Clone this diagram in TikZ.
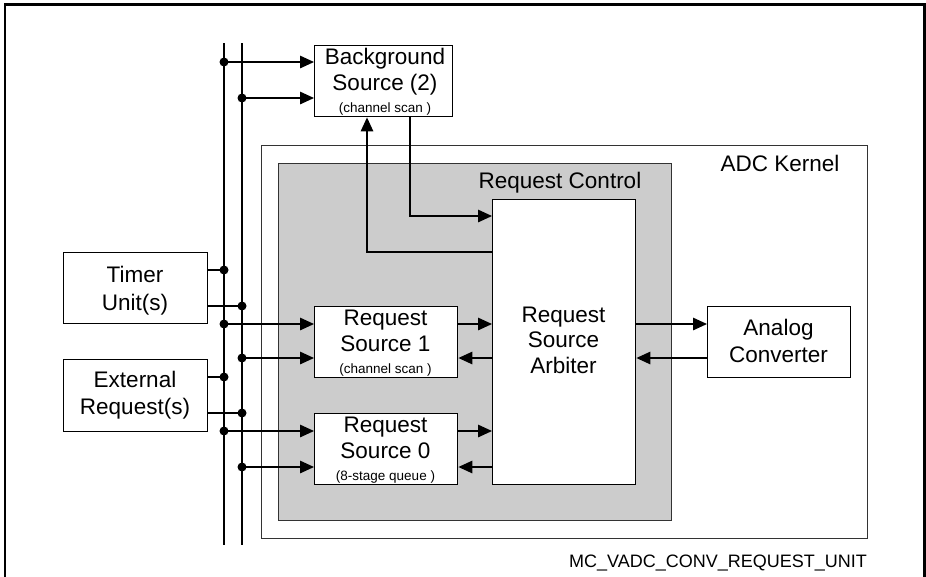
\documentclass[tikz,border=0pt]{standalone}
\usepackage{fontspec}
\setmainfont{Liberation Sans}
\usetikzlibrary{arrows.meta}
\definecolor{rcgray}{HTML}{CCCCCC}
\definecolor{edge}{HTML}{333333}
\begin{document}
\begin{tikzpicture}[x=1pt,y=-1pt,
  box/.style={draw=black, line width=1.4pt, fill=white, rectangle, inner sep=0pt, anchor=north west},
  big/.style={font=\fontsize{22.5}{26}\selectfont, inner sep=0pt, anchor=base},
  small/.style={font=\fontsize{13.5}{15}\selectfont, inner sep=0pt, anchor=base},
  conn/.style={line width=1.4pt},
  arr/.style={conn, -{Triangle[length=14pt,width=12.5pt]}},
  dot/.style={circle, fill=black, inner sep=0pt, minimum size=9pt},
]
\useasboundingbox (0,0) rectangle (926,576);
% outer frame
\draw[line width=2.2pt] (5,577) -- (5,4.5) -- (924.5,4.5) -- (924.5,577);
% ADC kernel and request control areas
\node[draw=edge, line width=1pt, rectangle, inner sep=0pt, anchor=north west,
      minimum width=606pt, minimum height=393pt] (adc) at (261,145) {};
\node[draw=edge, fill=rcgray, line width=1pt, rectangle, inner sep=0pt, anchor=north west,
      minimum width=393pt, minimum height=357pt] (rc) at (278,163) {};
% bus lines
\coordinate (b1t) at (224,43);
\coordinate (b1b) at (224,545);
\coordinate (b2t) at (242,43);
\coordinate (b2b) at (242,545);
\draw[conn] (b1t) -- (b1b);
\draw[conn] (b2t) -- (b2b);
% boxes
\node[box, minimum width=138pt, minimum height=71pt] (bg) at (314,45) {};
\node[box, minimum width=144pt, minimum height=71pt] (timer) at (63,252) {};
\node[box, minimum width=144pt, minimum height=72pt] (ext) at (63,359) {};
\node[box, minimum width=143pt, minimum height=71pt] (rs1) at (314,306) {};
\node[box, minimum width=143pt, minimum height=71pt] (rs0) at (314,413) {};
\node[box, minimum width=143pt, minimum height=285pt] (arb) at (492,199) {};
\node[box, minimum width=143pt, minimum height=71pt] (ana) at (707,306) {};
% junction dots
\node[dot] (j1) at (224,62) {};
\node[dot] (j2) at (242,98) {};
\node[dot] (j3) at (224,270) {};
\node[dot] (j4) at (242,306) {};
\node[dot] (j5) at (224,324) {};
\node[dot] (j6) at (242,358) {};
\node[dot] (j7) at (224,377) {};
\node[dot] (j8) at (242,413) {};
\node[dot] (j9) at (224,431) {};
\node[dot] (j10) at (242,467) {};
% sources to bus
\draw[conn] (timer.east |- j3) -- (j3.center);
\draw[conn] (timer.east |- j4) -- (j4.center);
\draw[conn] (ext.east |- j7) -- (j7.center);
\draw[conn] (ext.east |- j8) -- (j8.center);
% bus to request sources
\draw[arr] (j1.center) -- (bg.west |- j1);
\draw[arr] (j2.center) -- (bg.west |- j2);
\draw[arr] (j5.center) -- (rs1.west |- j5);
\draw[arr] (j6.center) -- (rs1.west |- j6);
\draw[arr] (j9.center) -- (rs0.west |- j9);
\draw[arr] (j10.center) -- (rs0.west |- j10);
% request sources <-> arbiter
\draw[arr] (rs1.east |- j5) -- (arb.west |- j5);
\draw[arr] (arb.west |- j6) -- (rs1.east |- j6);
\draw[arr] (rs0.east |- j9) -- (arb.west |- j9);
\draw[arr] (arb.west |- j10) -- (rs0.east |- j10);
% arbiter <-> analog converter
\draw[arr] (arb.east |- j5) -- (ana.west |- j5);
\draw[arr] (ana.west |- j6) -- (arb.east |- j6);
% background source loop
\coordinate (c1) at (410,216);
\coordinate (c2) at (367,252);
\draw[arr] (bg.south -| c1) -- (c1) -- (arb.west |- c1);
\draw[arr] (arb.west |- c2) -- (c2) -- (bg.south -| c2);
% texts
\node[big] (t1) at (385,64) {Background};
\node[big] (t2) at (385,90) {Source (2)};
\node[small] (t3) at (385,112) {(channel scan~)};
\node[big] (t4) at (135,282) {Timer};
\node[big] (t5) at (135,310) {Unit(s)};
\node[big] (t6) at (135,387) {External};
\node[big] (t7) at (135,414) {Request(s)};
\node[big] (t8) at (385.5,325) {Request};
\node[big] (t9) at (385.5,351) {Source 1};
\node[small] (t10) at (385.5,373) {(channel scan~)};
\node[big] (t11) at (385.5,432) {Request};
\node[big] (t12) at (385.5,458) {Source 0};
\node[small] (t13) at (385.5,480) {(8-stage queue~)};
\node[big] (t14) at (563.5,322) {Request};
\node[big] (t15) at (563.5,347) {Source};
\node[big] (t16) at (563.5,373) {Arbiter};
\node[big] (t17) at (778.5,335) {Analog};
\node[big] (t18) at (778.5,362) {Converter};
\node[big] (t19) at (560,188) {Request Control};
\node[big] (t20) at (780,171) {ADC Kernel};
\node[font=\fontsize{18}{20}\selectfont, inner sep=0pt, anchor=base east] (t21) at (867,567) {MC\_VADC\_CONV\_REQUEST\_UNIT};
\end{tikzpicture}
\end{document}
